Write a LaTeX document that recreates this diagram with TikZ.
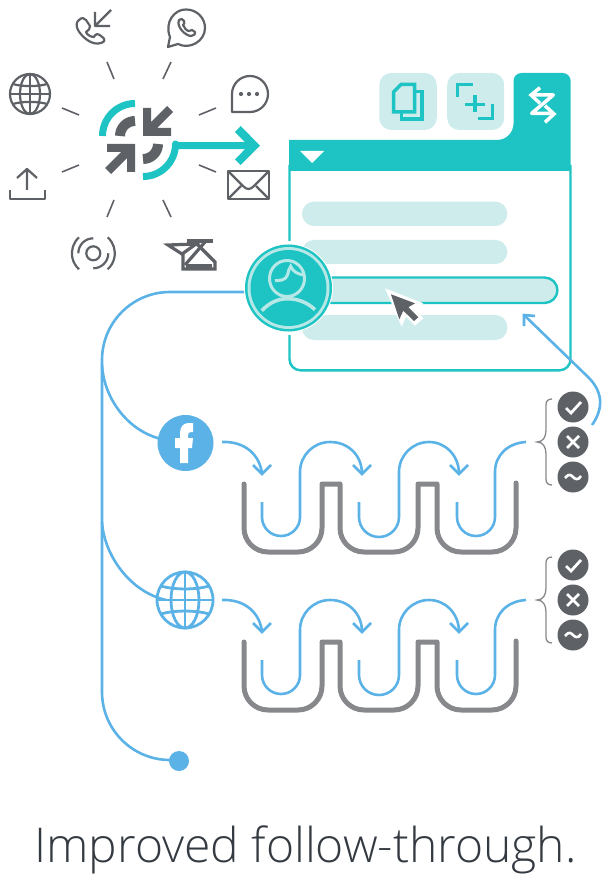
\documentclass[tikz,border=0pt]{standalone}
\usepackage{fontspec}
\setmainfont{Open Sans Light}
\definecolor{teal}{HTML}{1EC3C3}
\definecolor{pale}{HTML}{CDECEB}
\definecolor{ring}{HTML}{B5E8E6}
\definecolor{sky}{HTML}{5AB2E6}
\definecolor{dark}{HTML}{5E6166}
\definecolor{wavegray}{HTML}{86888B}
\definecolor{ink}{HTML}{343A41}
\tikzset{
  tick/.style={draw=dark,line width=1.6pt},
  icon/.style={draw=dark,line width=2.2pt,line join=round},
  bl/.style={draw=sky,line width=2.6pt},
  wv/.style={draw=wavegray,line width=5pt,line cap=round,line join=round},
  rowbar/.style={fill=pale,rounded corners=12pt},
  badge/.style={circle,fill=dark,minimum size=31pt,inner sep=0pt},
  tabicon/.style={draw=teal,line width=3.5pt},
}
\newcommand{\globeicon}[5]{% x y r colour width
  \begin{scope}[shift={(#1,#2)},draw=#4,line width=#5]
    \draw (0,0) circle (#3);
    \draw (0,-#3) -- (0,#3);
    \draw (-#3,0) -- (#3,0);
    \draw (0,0) ellipse ({0.5*#3} and #3);
    \draw (-.86*#3,-.5*#3) .. controls (-.4*#3,-.36*#3) and (.4*#3,-.36*#3) .. (.86*#3,-.5*#3);
    \draw (-.86*#3,.5*#3) .. controls (-.4*#3,.36*#3) and (.4*#3,.36*#3) .. (.86*#3,.5*#3);
  \end{scope}}
\newcommand{\waverow}[1]{%
  \begin{scope}[shift={(0,#1)}]
    \draw[wv] (244,484) -- (244,528) arc[start angle=180,end angle=90,radius=24] -- (298,552) arc[start angle=90,end angle=0,radius=24] -- (322,484) -- (340,484) -- (340,528) arc[start angle=180,end angle=90,radius=24] -- (394,552) arc[start angle=90,end angle=0,radius=24] -- (418,484) -- (437,484) -- (437,528) arc[start angle=180,end angle=90,radius=24] -- (492,552) arc[start angle=90,end angle=0,radius=24] -- (516,483);
    \draw[bl] (222,442) .. controls (245,441) and (260,455) .. (262,474);
    \draw[bl] (253,465) -- (262,474) -- (271,465);
    \draw[bl] (262,502) -- (262,517) arc[start angle=180,end angle=0,radius=19] -- (300,472) arc[start angle=180,end angle=270,radius=30] .. controls (348,442) and (362,455) .. (362,474);
    \draw[bl] (353,465) -- (362,474) -- (371,465);
    \draw[bl] (359,502) -- (359,517) arc[start angle=180,end angle=0,radius=20] -- (399,472) arc[start angle=180,end angle=270,radius=30] .. controls (445,442) and (459,455) .. (459,474);
    \draw[bl] (450,465) -- (459,474) -- (468,465);
    \draw[bl] (457,502) -- (457,517) arc[start angle=180,end angle=0,radius=19] -- (495,472) .. controls (495,455) and (508,443) .. (526,442);
  \end{scope}}
\newcommand{\bracegroup}[1]{%
  \begin{scope}[shift={(0,#1)}]
    \draw[draw=wavegray,line width=1.3pt] (552,399) .. controls (548,399) and (546,401) .. (546,405) -- (546,430) .. controls (546,437) and (543,442) .. (537,442) .. controls (543,442) and (546,447) .. (546,454) -- (546,479) .. controls (546,483) and (548,485) .. (552,485);
    \node[badge] (checkbadge#1) at (573,407) {};
    \node[badge] (crossbadge#1) at (573,442) {};
    \node[badge] (tildebadge#1) at (573,477) {};
    \draw[draw=white,line width=2.8pt] (566,408) -- (571,413) -- (581,402);
    \draw[draw=white,line width=2.8pt] (567,436) -- (579,448) (579,436) -- (567,448);
    \draw[draw=white,line width=2.6pt] (565,478) .. controls (569,473) and (571,475) .. (573,477) .. controls (575,479) and (578,481) .. (581,476);
  \end{scope}}
\begin{document}
\begin{tikzpicture}[x=1pt,y=-1pt]
\useasboundingbox (0,0) rectangle (611,882);
% hub
\draw[teal,line width=7pt] (102.5,136) arc[start angle=180,end angle=270,radius=32.5];
\draw[dark,line width=10pt] (120,136) arc[start angle=180,end angle=270,radius=15];
\draw[dark,line width=10pt] (158,144) arc[start angle=0,end angle=90,radius=15];
\fill[dark] (143,108) -- (151,108) -- (151,122) -- (167,106) -- (173,112) -- (157,128) -- (171,128) -- (171,136) -- (143,136) -- cycle;
\fill[dark] (135,172) -- (127,172) -- (127,158) -- (111,174) -- (105,168) -- (121,152) -- (107,152) -- (107,144) -- (135,144) -- cycle;
\draw[teal,line width=7pt,line join=round] (143,176.5) arc[start angle=90,end angle=0,radius=32.5] .. controls (175.5,147) and (176,145.7) .. (178,145.7) -- (250,145.7);
\fill[teal] (240.7,126) -- (260,145.7) -- (240.7,165) -- (235,159.3) -- (248.5,145.7) -- (235,132) -- cycle;
% ticks
\draw[tick] (107,62) -- (114,79);
\draw[tick] (171,62) -- (163,79);
\draw[tick] (216,108) -- (199,115);
\draw[tick] (62,108) -- (79,115);
\draw[tick] (62,172) -- (79,165);
\draw[tick] (199,165) -- (216,172);
\draw[tick] (114,200) -- (107,217);
\draw[tick] (163,200) -- (171,217);
% phone
\draw[icon] (111,10) -- (95,26) (95,12) -- (95,26) -- (110,26);
\draw[icon] (79,20) .. controls (82,17) and (84,18) .. (86,20) -- (90,26) .. controls (91,29) and (88,30) .. (86,32) .. controls (87,35) and (91,37) .. (94,37) .. controls (95,34) and (98,33) .. (101,36) .. controls (106,39) and (105,42) .. (101,43) .. controls (92,46) and (82,37) .. (78,30) .. controls (76,26) and (76,22) .. (79,20) -- cycle;
% whatsapp
\draw[icon] (170,37) .. controls (164,22) and (175,9) .. (186,9.5) .. controls (197,9.5) and (205,18) .. (205,28) .. controls (205,41) and (190,50) .. (178,44) -- (168,47) -- cycle;
\draw[icon] (179,20) .. controls (181,18) and (183,19) .. (184,21) .. controls (185,23) and (184,24) .. (183,25) .. controls (184,28) and (187,31) .. (189,31) .. controls (191,29) and (193,30) .. (195,32) .. controls (196,34) and (193,36) .. (191,36) .. controls (186,36) and (176,27) .. (179,20) -- cycle;
% chat
\draw[icon] (232,112) -- (232,94) arc[start angle=180,end angle=450,radius=18] -- cycle;
\fill[dark] (241,94) circle (2.1pt) (249,94) circle (2.1pt) (257,94) circle (2.1pt);
% envelope
\draw[icon] (228,171) rectangle (269,199);
\draw[icon] (228,171) -- (243,186) .. controls (247,190) and (250,190) .. (254,186) -- (269,171);
\draw[icon] (229,198) -- (241,186) (268,198) -- (256,186);
% globe
\globeicon{30}{94}{20}{dark}{2.2pt}
% upload
\draw[icon] (10,190) -- (10,199) -- (45,199) -- (45,190);
\draw[icon] (27,190) -- (27,169) (17,178) -- (27,169) -- (37,178);
% signal
\draw[icon] (93.3,253.3) circle (7);
\draw[icon] (79,237.3) arc[start angle=228,end angle=132,radius=21.5];
\draw[icon] (107.7,237.3) arc[start angle=-48,end angle=48,radius=21.5];
\draw[icon] (78.3,253.3) arc[start angle=180,end angle=270,radius=15];
\draw[icon] (108.3,253.3) arc[start angle=0,end angle=90,radius=15];
% folded mail icon
\begin{scope}[draw=dark,line width=3.2pt,line join=miter]
  \draw (187,241) -- (213,241);
  \draw (168,245) -- (196,244) -- (182,254) -- cycle;
  \draw (183,254) -- (183,269) -- (215,269) -- (215,262) -- (197,244);
  \draw (205,242) -- (185,265);
  \draw (186,266) -- (212,266);
\end{scope}
% window
\draw[teal,line width=2.4pt,fill=white,rounded corners=11pt] (289.5,165) -- (289.5,370.3) -- (570.5,370.3) -- (570.5,165);
\fill[white] (288.5,288) circle (47);
\fill[teal] (289,140) -- (497,140) arc[start angle=90,end angle=0,radius=16.5] -- (513.5,81) arc[start angle=180,end angle=270,radius=8] -- (562.7,73) arc[start angle=270,end angle=360,radius=8] -- (570.7,171) -- (289,171) -- cycle;
\fill[white] (300,151) -- (324,151) -- (312,163) -- cycle;
\node[rowbar,minimum width=57.5pt,minimum height=57pt,inner sep=0pt] (copybtn) at (408,101.5) {};
\node[rowbar,minimum width=57pt,minimum height=57pt,inner sep=0pt] (addbtn) at (475.7,101.5) {};
\draw[tabicon,line join=miter] (393.5,92) -- (401,84.5) -- (414.5,84.5) -- (414.5,112) -- (393.5,112) -- cycle;
\draw[tabicon] (415,91.5) -- (422,91.5) -- (422,119) -- (401.7,119) -- (401.7,112);
\draw[tabicon] (457.3,97.3) -- (457.3,84.3) -- (472.7,84.3);
\draw[tabicon] (492.7,104.3) -- (492.7,118.3) -- (478.3,118.3);
\draw[tabicon] (465,104.3) -- (485,104.3) (475,95) -- (475,112);
\draw[draw=white,line width=3.5pt,line join=round] (531.7,95) -- (553.3,95) -- (531.7,113.3) -- (553.3,113.3);
\draw[draw=white,line width=3.5pt] (540,87.7) -- (531,95) -- (540,103.3);
\draw[draw=white,line width=3.5pt] (545,105.7) -- (554,114) -- (545,122.3);
% rows
\fill[rowbar] (302,201.7) rectangle (507.3,226);
\fill[rowbar] (302,240) rectangle (507.3,264);
\fill[rowbar] (302,315) rectangle (507.3,340);
\draw[draw=teal,fill=pale,line width=2.4pt,rounded corners=13pt] (290,277.5) rectangle (557.5,303);
% blue route
\coordinate (routestart) at (250,292);
\coordinate (fbend) at (166,440);
\coordinate (globeend) at (166,600);
\draw[bl] (routestart) -- (170,292) arc[start angle=270,end angle=180,radius=68] -- (102,692) arc[start angle=180,end angle=90,radius=68] -- (179,761);
\draw[bl] (102,365) .. controls (104,400) and (130,434) .. (fbend);
\draw[bl] (102,522) .. controls (104,555) and (130,592) .. (globeend);
% avatar
\fill[white] (288.5,288) circle (44.5);
\fill[teal] (288.5,288) circle (43.5);
\fill[ring] (288.5,288) circle (41);
\fill[teal] (288.5,288) circle (38);
\begin{scope}
  \clip (288.5,288) circle (38);
  \draw[ring,line width=3pt] (287,278.5) ellipse (17.5 and 18);
  \draw[ring,line width=3pt] (275,280.7) .. controls (281,280.5) and (285,280) .. (287,276) .. controls (289,272) and (288,269) .. (290.7,266.3) .. controls (293,272) and (298,274) .. (303.5,275);
  \draw[ring,line width=3.6pt] (261.7,310.7) .. controls (270,302) and (279,298.7) .. (287.3,298.7) .. controls (297,298.7) and (307,302) .. (315,309.7);
\end{scope}
% cursor
\fill[white] (385,288.3) -- (423.3,303.3) -- (415,309.3) -- (423.3,318.3) -- (415,325.7) -- (406,316.7) -- (401.7,326.7) -- cycle;
\fill[dark] (391,294.3) -- (415,303.3) -- (408.3,307.3) -- (418.3,317.3) -- (414,321) -- (403.3,310.7) -- (399.3,319.3) -- cycle;
% facebook
\node[circle,fill=sky,minimum size=56pt,inner sep=0pt] (fb) at (185.5,443) {};
\fill[white] (180,463) -- (180,448) -- (175,448) -- (175,438) -- (180,438) -- (180,433) .. controls (180,426) and (184,423) .. (189,423) -- (193,423) -- (193,432) -- (191,432) .. controls (189,432) and (188,433) .. (188,435) -- (188,438) -- (193,438) -- (192,448) -- (188,448) -- (188,463) -- cycle;
% globe blue
\globeicon{185}{600}{28}{sky}{2.8pt}
% end dot
\node[circle,fill=sky,minimum size=20pt,inner sep=0pt] (enddot) at (179,761) {};
% wave rows
\waverow{0}
\waverow{158}
% return arrow
\draw[bl] (592,425) .. controls (604,408) and (603,391) .. (587,376) -- (524,315);
\draw[bl] (524,326) -- (524,315) -- (535,316);
% badges
\bracegroup{0}
\bracegroup{158}
% caption
\node[text=ink,font=\fontsize{48}{48}\selectfont,anchor=base] (caption) at (305.5,862) {Improved follow-through.};
\end{tikzpicture}
\end{document}
